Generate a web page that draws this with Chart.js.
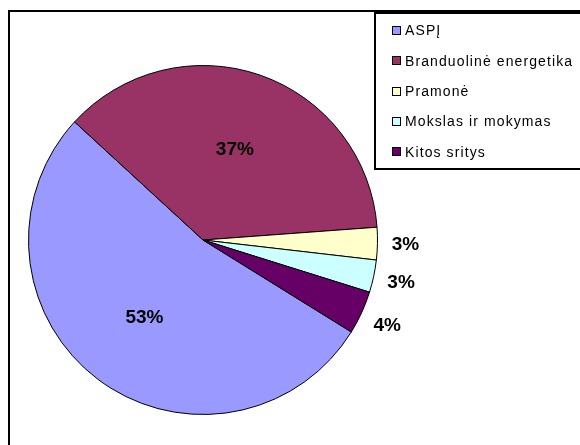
<!DOCTYPE html>
<html>
<head>
<meta charset="utf-8">
<script src="https://cdn.jsdelivr.net/npm/chart.js@4/dist/chart.umd.min.js"></script>
<style>
  html, body { margin: 0; padding: 0; background: #ffffff; }
  #wrap { width: 580px; height: 445px; position: relative; }
</style>
</head>
<body>
<div id="wrap"><canvas id="pie" width="580" height="445"></canvas></div>
<script>
// Sector names and their shares (percent)
const categories = ['ASPĮ', 'Branduolinė energetika', 'Pramonė', 'Mokslas ir mokymas', 'Kitos sritys'];
const shares = [53, 37, 3, 3, 4];
const sliceColors = ['#9999FF', '#993366', '#FFFFCC', '#CCFFFF', '#660066'];

// Outer chart frame
const framePlugin = {
  id: 'frame',
  beforeDraw(chart) {
    const ctx = chart.ctx;
    ctx.save();
    ctx.fillStyle = '#ffffff';
    ctx.fillRect(0, 0, chart.width, chart.height);
    ctx.strokeStyle = '#000000';
    ctx.lineWidth = 2;
    ctx.strokeRect(9, 11, chart.width + 20, chart.height + 20);
    ctx.restore();
  }
};

// Legend drawn in a boxed panel at the upper right
const boxLegendPlugin = {
  id: 'boxLegend',
  afterDraw(chart) {
    const ctx = chart.ctx;
    const ds = chart.data.datasets[0];
    ctx.save();
    ctx.strokeStyle = '#000000';
    ctx.lineWidth = 2;
    ctx.fillStyle = '#ffffff';
    ctx.fillRect(375, 13, 300, 156);
    ctx.strokeRect(375, 13, 300, 156);
    ctx.font = '14px "Liberation Sans", Arial, sans-serif';
    ctx.letterSpacing = '1.1px';
    ctx.textBaseline = 'middle';
    ctx.textAlign = 'left';
    chart.data.labels.forEach((label, i) => {
      const cy = 31 + i * 30.3;
      ctx.fillStyle = ds.backgroundColor[i];
      ctx.fillRect(392, Math.round(cy) - 4, 8, 8);
      ctx.lineWidth = 1;
      ctx.strokeStyle = '#000000';
      ctx.strokeRect(392.5, Math.round(cy) - 4.5, 8, 8);
      ctx.fillStyle = '#000000';
      ctx.fillText(label, 405, cy + 0.5);
    });
    ctx.restore();
  }
};

// Percentage labels: inside large slices, just outside small ones
const pctLabelPlugin = {
  id: 'pctLabels',
  afterDatasetsDraw(chart) {
    const ctx = chart.ctx;
    const meta = chart.getDatasetMeta(0);
    const values = chart.data.datasets[0].data;
    const total = values.reduce((a, b) => a + b, 0);
    ctx.save();
    ctx.font = 'bold 19px "Liberation Sans", Arial, sans-serif';
    ctx.fillStyle = '#000000';
    ctx.textAlign = 'center';
    ctx.textBaseline = 'middle';
    meta.data.forEach((arc, i) => {
      const p = arc.getProps(['x', 'y', 'startAngle', 'endAngle', 'outerRadius'], true);
      const mid = (p.startAngle + p.endAngle) / 2;
      const pct = Math.round(values[i] / total * 100);
      const r = pct < 10 ? p.outerRadius + 28 : p.outerRadius * 0.555;
      ctx.fillText(pct + '%', p.x + Math.cos(mid) * r, p.y + Math.sin(mid) * r + 1);
    });
    ctx.restore();
  }
};

new Chart(document.getElementById('pie'), {
  type: 'pie',
  data: {
    labels: categories,
    datasets: [{
      data: shares,
      backgroundColor: sliceColors,
      borderColor: '#000000',
      borderWidth: 1
    }]
  },
  options: {
    responsive: false,
    animation: false,
    devicePixelRatio: 1,
    rotation: 121.8,
    layout: { padding: { left: 28, right: 202, top: 65, bottom: 30 } },
    plugins: {
      legend: { display: false },
      tooltip: { enabled: false }
    },
    events: []
  },
  plugins: [framePlugin, pctLabelPlugin, boxLegendPlugin]
});
</script>
</body>
</html>
